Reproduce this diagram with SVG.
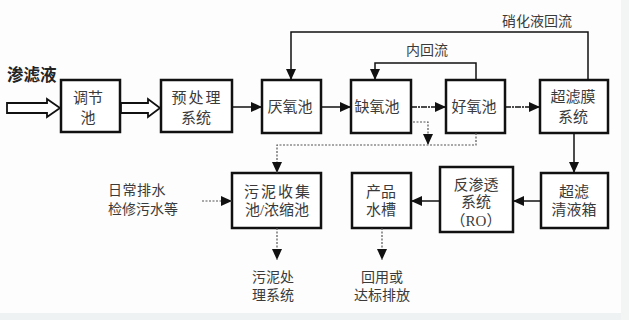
<svg xmlns="http://www.w3.org/2000/svg" width="629" height="320" viewBox="0 0 629 320">
<defs>
<marker id="ah" markerUnits="userSpaceOnUse" markerWidth="12" markerHeight="10" refX="11" refY="5" orient="auto">
<path d="M0,0 L11,5 L0,10 Z" fill="#111"/>
</marker>
<style>
.box{fill:#fff;stroke:#111;stroke-width:2.5}
.t{font-family:"Liberation Serif","Noto Sans CJK SC",serif;font-size:15px;fill:#3a3a3a;text-anchor:middle}
.l{font-family:"Liberation Serif","Noto Sans CJK SC",serif;font-size:14px;fill:#3a3a3a}
.s{fill:none;stroke:#111;stroke-width:1.5}
.dd{fill:none;stroke:#111;stroke-width:1.5;stroke-dasharray:6 1 2 1}
.d{fill:none;stroke:#555;stroke-width:1.2;stroke-dasharray:2 1.5}
.ha{fill:#fff;stroke:#111;stroke-width:1.8}
</style>
</defs>
<rect width="629" height="320" fill="#fdfdfd"/>
<rect x="0" y="313" width="629" height="7" fill="#eef2f2"/>
<rect x="621" y="0" width="8" height="320" fill="#f3f5f5"/>

<g id="input">
<text x="7" y="81" style="font-family:'Liberation Sans','Noto Sans CJK SC',sans-serif;font-size:16.5px;font-weight:bold;fill:#222">渗滤液</text>
</g>

<g id="n-tiaojie">
<rect class="box" x="61" y="80" width="59" height="52"/>
<text class="t" x="88" y="103">调节</text>
<text class="t" x="88" y="123">池</text>
</g>
<g id="n-yuchuli">
<rect class="box" x="161" y="80" width="71" height="52"/>
<text class="t" x="197" y="103" letter-spacing="2">预处理</text>
<text class="t" x="196" y="123">系统</text>
</g>
<g id="n-yanyang">
<rect class="box" x="262" y="80" width="59" height="53"/>
<text class="t" x="290" y="112">厌氧池</text>
</g>
<g id="n-queyang">
<rect class="box" x="351" y="80" width="60" height="53"/>
<text class="t" x="377" y="112">缺氧池</text>
</g>
<g id="n-haoyang">
<rect class="box" x="446" y="80" width="59" height="53"/>
<text class="t" x="474" y="112">好氧池</text>
</g>
<g id="n-chaolvmo">
<rect class="box" x="540" y="80" width="68" height="53"/>
<text class="t" x="573" y="102">超滤膜</text>
<text class="t" x="573" y="122">系统</text>
</g>
<g id="n-wuni">
<rect class="box" x="232" y="173" width="89" height="55"/>
<text class="t" x="278" y="197" letter-spacing="2">污泥收集</text>
<text class="t" x="277" y="215">池/浓缩池</text>
</g>
<g id="n-chanpin">
<rect class="box" x="352" y="173" width="59" height="55"/>
<text class="t" x="381" y="197">产品</text>
<text class="t" x="381" y="215">水槽</text>
</g>
<g id="n-ro">
<rect class="box" x="440" y="167" width="73" height="65"/>
<text class="t" x="476" y="190">反渗透</text>
<text class="t" x="476" y="207">系统</text>
<text class="t" x="476" y="226">（RO）</text>
</g>
<g id="n-qingye">
<rect class="box" x="541" y="173" width="67" height="55"/>
<text class="t" x="574" y="197">超滤</text>
<text class="t" x="574" y="215">清液箱</text>
</g>

<g id="labels">
<text class="l" x="502" y="26">硝化液回流</text>
<text class="l" x="406" y="55">内回流</text>
<text class="l" x="108" y="195" letter-spacing="0.5">日常排水</text>
<text class="l" x="108" y="214">检修污水等</text>
<text class="l" x="273" y="282" text-anchor="middle">污泥处</text>
<text class="l" x="273" y="300" text-anchor="middle">理系统</text>
<text class="l" x="382" y="282" text-anchor="middle">回用或</text>
<text class="l" x="382" y="300" text-anchor="middle">达标排放</text>
</g>

<g id="connectors">
<polygon class="ha" points="7,103 47,103 47,99 60,108 47,117 47,113 7,113"/>
<polygon class="ha" points="121,103 148,103 148,99 160,108 148,117 148,113 121,113"/>
<line class="s" x1="232" y1="107" x2="262" y2="107" marker-end="url(#ah)"/>
<line class="s" x1="321" y1="107" x2="351" y2="107" marker-end="url(#ah)"/>
<line class="dd" x1="411" y1="107" x2="446" y2="107" marker-end="url(#ah)"/>
<line class="dd" x1="505" y1="107" x2="540" y2="107" marker-end="url(#ah)"/>
<polyline class="s" points="588,80 588,32 291,32 291,80" marker-end="url(#ah)"/>
<polyline class="s" points="476,80 476,63 375,63 375,80" marker-end="url(#ah)"/>
<polyline class="d" points="413,122 428,122 428,145" marker-end="url(#ah)"/>
<polyline class="d" points="476,133 476,145 277,145 277,173" marker-end="url(#ah)"/>
<line class="s" x1="574" y1="133" x2="574" y2="173" marker-end="url(#ah)"/>
<line class="s" x1="541" y1="201" x2="513" y2="201" marker-end="url(#ah)"/>
<line class="s" x1="440" y1="201" x2="411" y2="201" marker-end="url(#ah)"/>
<line class="d" x1="382" y1="228" x2="382" y2="260" marker-end="url(#ah)"/>
<line class="d" x1="277" y1="228" x2="277" y2="260" marker-end="url(#ah)"/>
<line class="d" x1="202" y1="201" x2="232" y2="201" marker-end="url(#ah)"/>
</g>
</svg>
